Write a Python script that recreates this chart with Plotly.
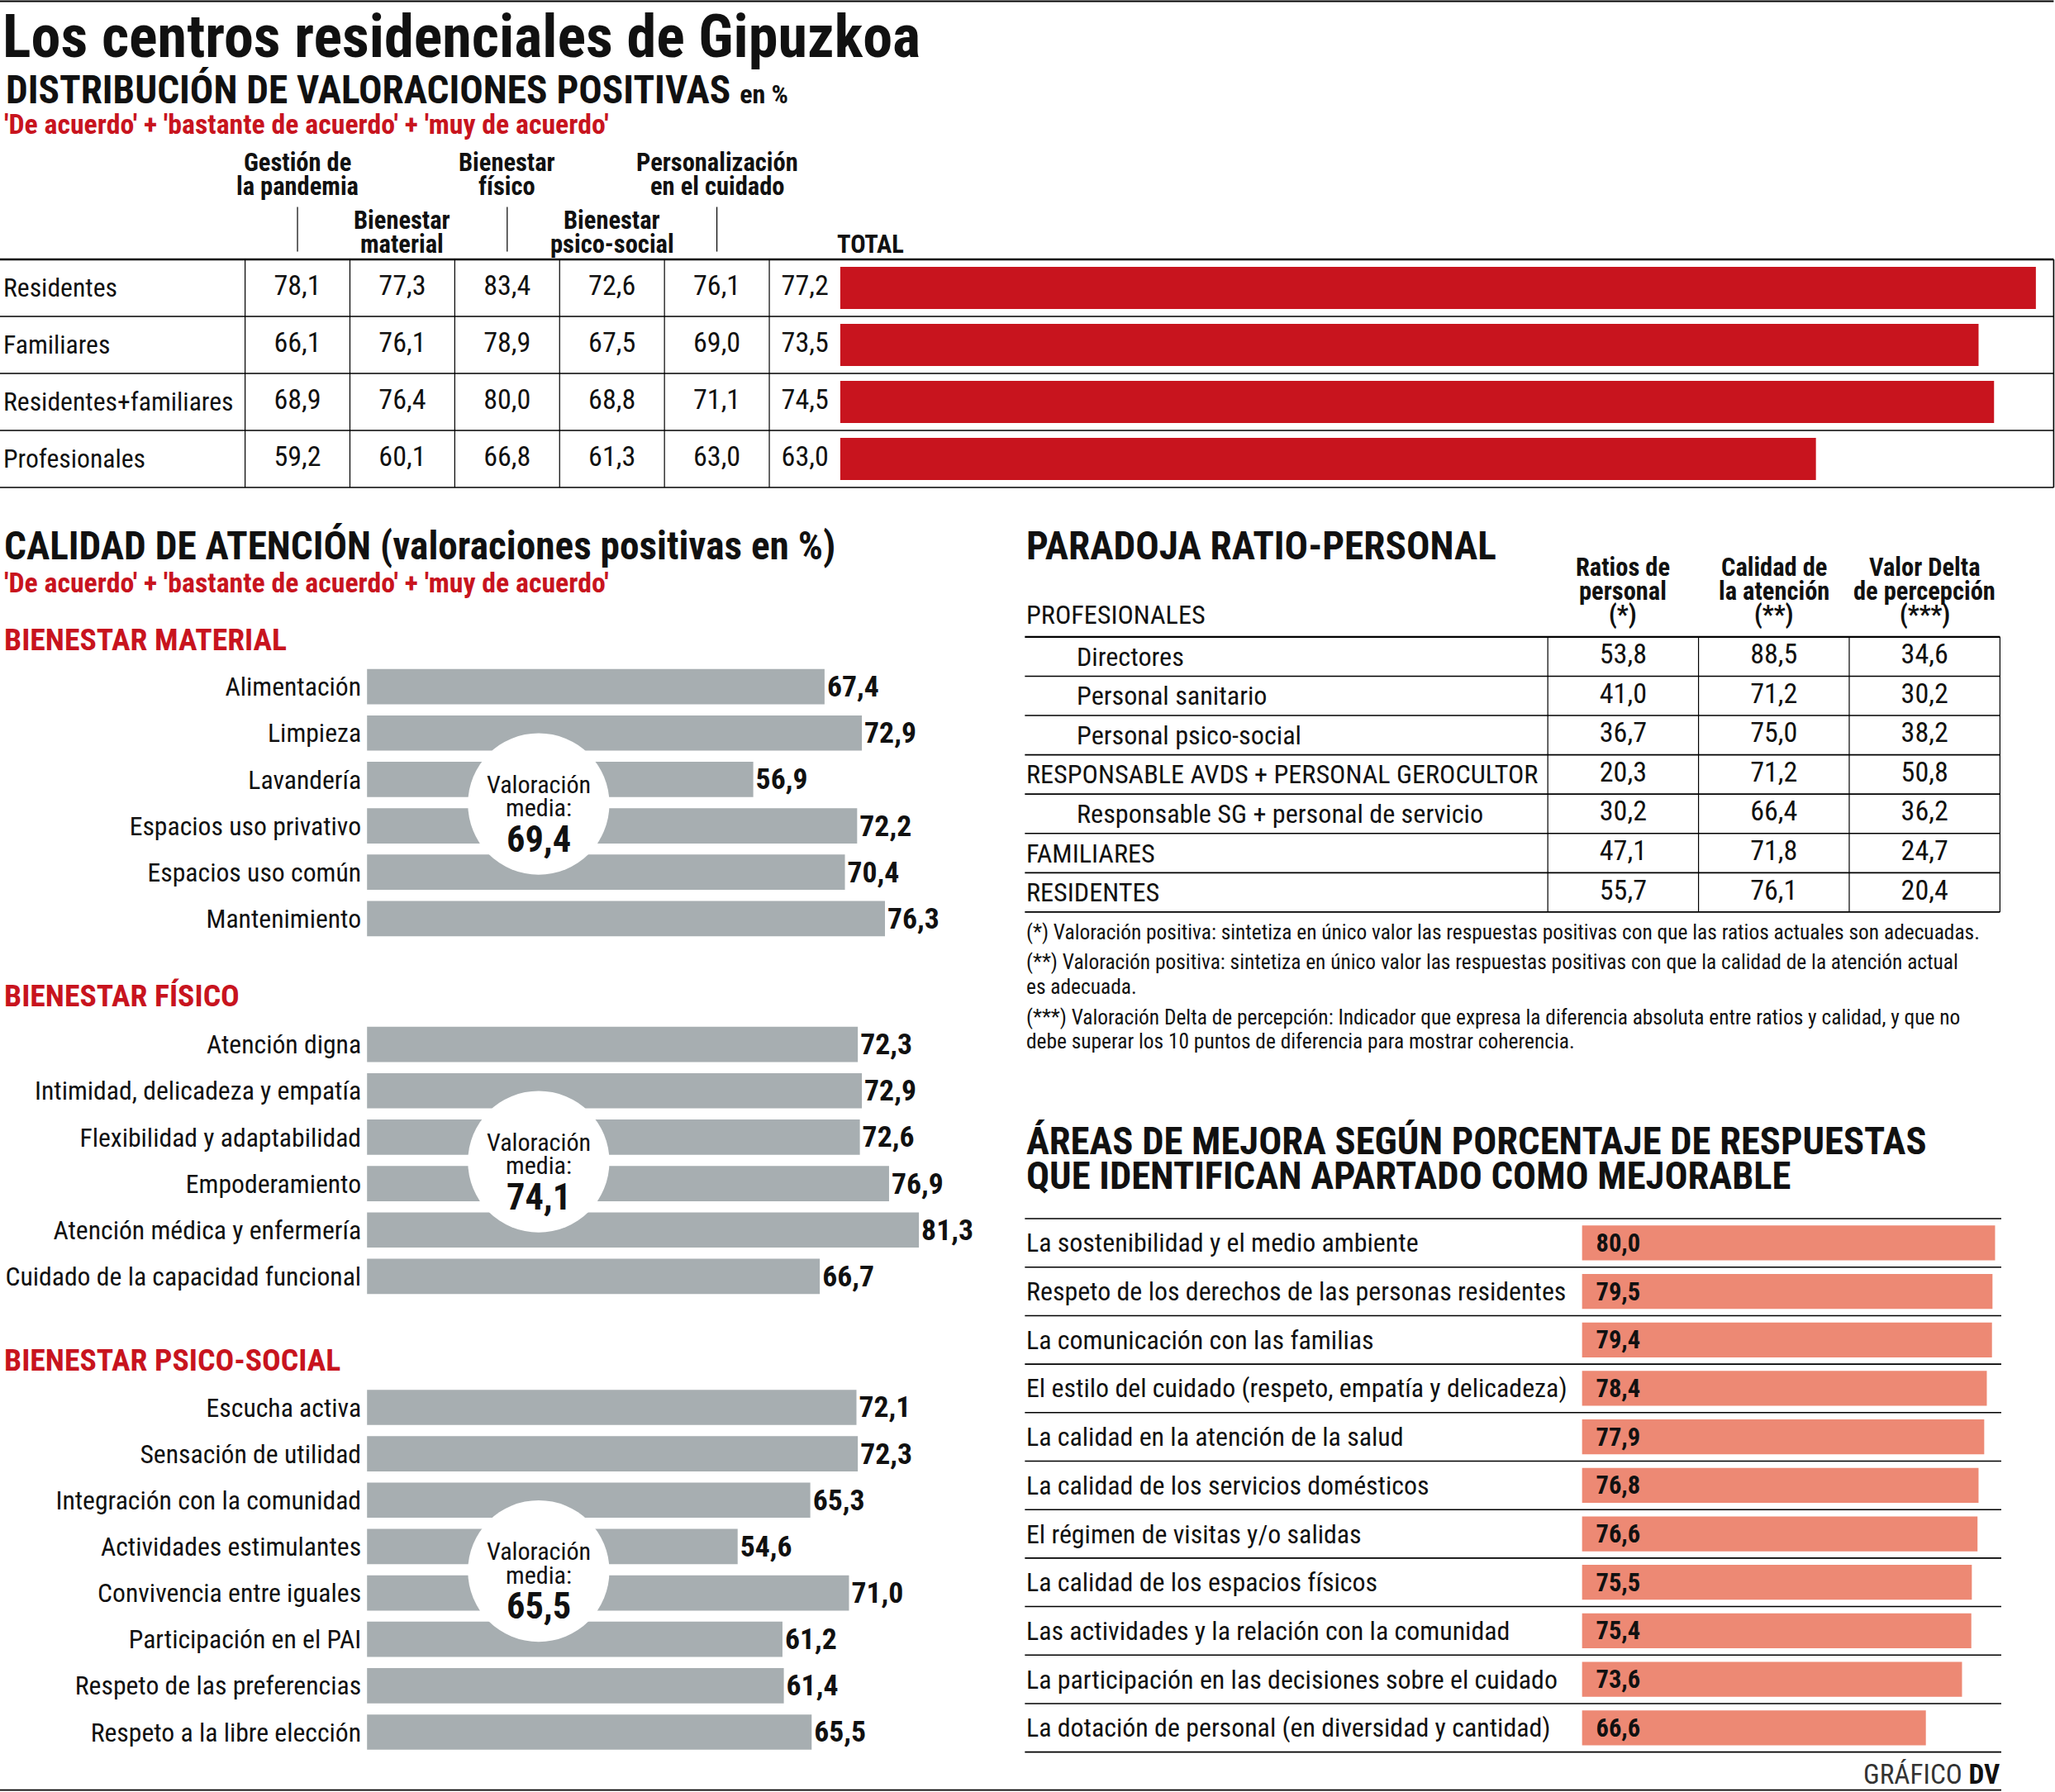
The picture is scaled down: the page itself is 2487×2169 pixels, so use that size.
import plotly.graph_objects as go

# ---------------- data ----------------
dist_rows = ["Residentes", "Familiares", "Residentes+familiares", "Profesionales"]
dist_headers = ["Gestión de|la pandemia", "Bienestar|material", "Bienestar|físico",
                "Bienestar|psico-social", "Personalización|en el cuidado"]
dist_gestion = [78.1, 66.1, 68.9, 59.2]
dist_material = [77.3, 76.1, 76.4, 60.1]
dist_fisico = [83.4, 78.9, 80.0, 66.8]
dist_psico = [72.6, 67.5, 68.8, 61.3]
dist_personal = [76.1, 69.0, 71.1, 63.0]
dist_total = [77.2, 73.5, 74.5, 63.0]

mat_labels = ["Alimentación", "Limpieza", "Lavandería", "Espacios uso privativo",
              "Espacios uso común", "Mantenimiento"]
mat_values = [67.4, 72.9, 56.9, 72.2, 70.4, 76.3]
mat_mean = 69.4

fis_labels = ["Atención digna", "Intimidad, delicadeza y empatía", "Flexibilidad y adaptabilidad",
              "Empoderamiento", "Atención médica y enfermería", "Cuidado de la capacidad funcional"]
fis_values = [72.3, 72.9, 72.6, 76.9, 81.3, 66.7]
fis_mean = 74.1

psi_labels = ["Escucha activa", "Sensación de utilidad", "Integración con la comunidad",
              "Actividades estimulantes", "Convivencia entre iguales", "Participación en el PAI",
              "Respeto de las preferencias", "Respeto a la libre elección"]
psi_values = [72.1, 72.3, 65.3, 54.6, 71.0, 61.2, 61.4, 65.5]
psi_mean = 65.5

par_rows = ["Directores", "Personal sanitario", "Personal psico-social",
            "RESPONSABLE AVDS + PERSONAL GEROCULTOR", "Responsable SG + personal de servicio",
            "FAMILIARES", "RESIDENTES"]
par_sub = [True, True, True, False, True, False, False]
par_headers = ["Ratios de|personal|(*)", "Calidad de|la atención|(**)", "Valor Delta|de percepción|(***)"]
par_ratios = [53.8, 41.0, 36.7, 20.3, 30.2, 47.1, 55.7]
par_calidad = [88.5, 71.2, 75.0, 71.2, 66.4, 71.8, 76.1]
par_delta = [34.6, 30.2, 38.2, 50.8, 36.2, 24.7, 20.4]

par_notes = [
    "(*) Valoración positiva: sintetiza en único valor las respuestas positivas con que las ratios actuales son adecuadas.",
    "(**) Valoración positiva: sintetiza en único valor las respuestas positivas con que la calidad de la atención actual|es adecuada.",
    "(***) Valoración Delta de percepción: Indicador que expresa la diferencia absoluta entre ratios y calidad, y que no|debe superar los 10 puntos de diferencia para mostrar coherencia.",
]

area_labels = ["La sostenibilidad y el medio ambiente",
               "Respeto de los derechos de las personas residentes",
               "La comunicación con las familias",
               "El estilo del cuidado (respeto, empatía y delicadeza)",
               "La calidad en la atención de la salud",
               "La calidad de los servicios domésticos",
               "El régimen de visitas y/o salidas",
               "La calidad de los espacios físicos",
               "Las actividades y la relación con la comunidad",
               "La participación en las decisiones sobre el cuidado",
               "La dotación de personal (en diversidad y cantidad)"]
area_values = [80.0, 79.5, 79.4, 78.4, 77.9, 76.8, 76.6, 75.5, 75.4, 73.6, 66.6]

# ---------------- helpers ----------------
W, H = 2487, 2169
S = W / 1568.0


def X(d):
    return d / 1568.0


def Y(d):
    return 1 - d * S / H


def F(d):
    return round(d * S, 1)


def fmt(v):
    return f"{v:.1f}".replace(".", ",")


FN = "Roboto Condensed, Noto Sans Condensed, Liberation Sans Narrow, Liberation Sans, Arial, sans-serif"
RED = "#c8141e"
GRAY = "#a7aeb1"
SALMON = "#ed8974"
BLACK = "#111111"

fig = go.Figure()
ann = []
shp = []


def ptext(t, xd, yd, size, bold=False, color=BLACK, xanchor="left", xref="paper", yref="paper"):
    ann.append(dict(
        text=t, showarrow=False,
        x=X(xd) if xref == "paper" else xd,
        y=Y(yd) if yref == "paper" else yd,
        xref=xref, yref=yref, xanchor=xanchor, yanchor="middle",
        font=dict(family=FN, size=F(size), color=color, weight="bold" if bold else "normal"),
    ))


def lines_text(t, xd, yd, dy, size, bold=False, color=BLACK, xanchor="left", xref="paper"):
    for i, part in enumerate(t.split("|")):
        ptext(part, xd, yd + i * dy, size, bold, color, xanchor, xref)


def hline(yd, x0, x1, w=1.6):
    shp.append(dict(type="line", xref="paper", yref="paper", x0=X(x0), x1=X(x1), y0=Y(yd), y1=Y(yd),
                    line=dict(color="black", width=w)))


def vline(xd, y0, y1, w=1.4, xref="paper"):
    shp.append(dict(type="line", xref=xref, yref="paper",
                    x0=X(xd) if xref == "paper" else xd, x1=X(xd) if xref == "paper" else xd,
                    y0=Y(y0), y1=Y(y1), line=dict(color="black", width=w)))


TITLE = 29.8
HEAD = 19.2
# ---------------- titles ----------------
hline(1, 0, 1567, 2)
ptext("Los centros residenciales de Gipuzkoa", 0.5, 28, 45.5, bold=True)
ptext('DISTRIBUCIÓN DE VALORACIONES POSITIVAS <span style="font-size:%.0fpx">en %%</span>' % F(20),
      3, 69, TITLE, bold=True)
ptext("'De acuerdo' + 'bastante de acuerdo' + 'muy de acuerdo'", 2, 95, 21.3, bold=True, color=RED)

# ---------------- section 1: table + total bars ----------------
T1_TOP, T1_BOT = 198, 372
fig.add_trace(go.Bar(x=dist_total, y=dist_rows, orientation="h", width=0.74,
                     marker=dict(color=RED, line_width=0), xaxis="x", yaxis="y", hoverinfo="skip"))
col_vals = [dist_gestion, dist_material, dist_fisico, dist_psico, dist_personal, dist_total]
col_x = [0.5, 1.5, 2.5, 3.5, 4.5, 5.34]
for cx, vals in zip(col_x, col_vals):
    fig.add_trace(go.Scatter(x=[cx] * len(vals), y=dist_rows, mode="text",
                             text=[fmt(v) for v in vals],
                             textfont=dict(family=FN, size=F(21.5), color=BLACK),
                             xaxis="x2", yaxis="y", hoverinfo="skip"))
for r in dist_rows:
    ann.append(dict(text=r, x=X(1), y=r, xref="paper", yref="y", xanchor="left", yanchor="middle",
                    showarrow=False, font=dict(family=FN, size=F(20), color=BLACK)))
for j, h in enumerate(dist_headers):
    y0 = 124 if j % 2 == 0 else 168
    lines_text(h, j + 0.5, y0, 18, HEAD, bold=True, xanchor="center", xref="x2")
    if j % 2 == 0:
        vline(j + 0.5, 158, 192, 1.2, xref="x2")
ptext("TOTAL", 664, 186, HEAD, bold=True, xanchor="center")

hline(T1_TOP, 0, 1567, 2.4)
for k in range(1, len(dist_rows) + 1):
    hline(T1_TOP + k * (T1_BOT - T1_TOP) / len(dist_rows), 0, 1567, 1.6)
for xv in [187, 267, 347, 427, 507, 587]:
    vline(xv, T1_TOP, T1_BOT, 1.2)
vline(1567, T1_TOP, T1_BOT, 1.6)

# ---------------- section 2: calidad de atención ----------------
ptext("CALIDAD DE ATENCIÓN (valoraciones positivas en %)", 2, 417, TITLE, bold=True)
ptext("'De acuerdo' + 'bastante de acuerdo' + 'muy de acuerdo'", 2, 445, 21.3, bold=True, color=RED)

ROW = 35.4
groups = [
    ("BIENESTAR MATERIAL", mat_labels, mat_values, mat_mean, 488, 506.3, "x3", "y3"),
    ("BIENESTAR FÍSICO", fis_labels, fis_values, fis_mean, 760, 779.3, "x4", "y4"),
    ("BIENESTAR PSICO-SOCIAL", psi_labels, psi_values, psi_mean, 1038, 1056.3, "x5", "y5"),
]
layout_axes = {}
for name, labels, vals, mean, hy, top, xa, ya in groups:
    n = len(labels)
    bot = top + n * ROW
    ptext(name, 2, hy, 23.8, bold=True, color=RED)
    fig.add_trace(go.Bar(x=vals, y=labels, orientation="h", width=0.76,
                         marker=dict(color=GRAY, line_width=0),
                         text=[fmt(v) for v in vals], textposition="outside",
                         textfont=dict(family=FN, size=F(22.5), color=BLACK, weight="bold"),
                         cliponaxis=False, xaxis=xa, yaxis=ya, hoverinfo="skip"))
    xk = "xaxis" + xa[1:]
    yk = "yaxis" + ya[1:]
    layout_axes[xk] = dict(domain=[X(280), X(760)], range=[0, 92.66], visible=False,
                           anchor=ya, fixedrange=True)
    layout_axes[yk] = dict(domain=[Y(bot), Y(top)], range=[n - 0.5, -0.5], type="category",
                           categoryorder="array", categoryarray=labels, anchor=xa,
                           showline=False, showgrid=False, zeroline=False, ticks="",
                           ticklabelstandoff=6, automargin=False,
                           tickfont=dict(family=FN, size=F(20), color=BLACK))
    # circle with mean
    mid = n // 2 - 1 if n == 6 else 3
    cy = top + (mid + 1) * ROW + 1
    cx, r = 411, 54
    shp.append(dict(type="circle", xref="paper", yref="paper", layer="above",
                    x0=X(cx - r), x1=X(cx + r), y0=Y(cy + r), y1=Y(cy - r),
                    fillcolor="white", line=dict(width=0)))
    ptext("Valoración", cx, cy - 15, 19, xanchor="center")
    ptext("media:", cx, cy + 3, 19, xanchor="center")
    ptext(fmt(mean), cx, cy + 27, 28, bold=True, xanchor="center")

# ---------------- section 3: paradoja ratio-personal ----------------
ptext("PARADOJA RATIO-PERSONAL", 782, 417, TITLE, bold=True)
P_TOP, P_BOT = 486, 696
P_COLS = [1181, 1296, 1411, 1526]
for j, h in enumerate(par_headers):
    lines_text(h, j + 0.5, 433, 18, HEAD, bold=True, xanchor="center", xref="x6")
ptext("PROFESIONALES", 782, 469, 20.3)
for j, vals in enumerate([par_ratios, par_calidad, par_delta]):
    fig.add_trace(go.Scatter(x=[j + 0.5] * len(vals), y=par_rows, mode="text",
                             text=[fmt(v) for v in vals],
                             textfont=dict(family=FN, size=F(21.5), color=BLACK),
                             xaxis="x6", yaxis="y6", hoverinfo="skip"))
for r, sub in zip(par_rows, par_sub):
    ann.append(dict(text=r, x=X(820 if sub else 782), y=r, xref="paper", yref="y6",
                    xanchor="left", yanchor="middle", showarrow=False,
                    font=dict(family=FN, size=F(20.3), color=BLACK)))
hline(P_TOP, 782, 1526, 2.4)
for k in range(1, len(par_rows) + 1):
    hline(P_TOP + k * (P_BOT - P_TOP) / len(par_rows), 782, 1526, 1.6)
for xv in P_COLS:
    vline(xv, P_TOP, P_BOT, 1.2)
layout_axes["xaxis6"] = dict(domain=[X(1181), X(1526)], range=[0, 3], visible=False, anchor="y6")
layout_axes["yaxis6"] = dict(domain=[Y(P_BOT), Y(P_TOP)], range=[len(par_rows) - 0.5, -0.5],
                             type="category", categoryorder="array", categoryarray=par_rows,
                             visible=False, anchor="x6")

note_y = [711, 734, 776]
for ny, note in zip(note_y, par_notes):
    lines_text(note, 782, ny, 18.5, 16)

# ---------------- section 4: áreas de mejora ----------------
ptext("ÁREAS DE MEJORA SEGÚN PORCENTAJE DE RESPUESTAS", 782, 871, 29.4, bold=True)
ptext("QUE IDENTIFICAN APARTADO COMO MEJORABLE", 782, 897, 29.4, bold=True)
A_TOP, A_BOT = 930, 1337
fig.add_trace(go.Bar(x=area_values, y=area_labels, orientation="h", width=0.72,
                     marker=dict(color=SALMON, line_width=0),
                     text=["\u00a0\u00a0" + fmt(v) for v in area_values], textposition="inside",
                     insidetextanchor="start",
                     textfont=dict(family=FN, size=F(22.8), color=BLACK, weight="bold"),
                     xaxis="x7", yaxis="y7", hoverinfo="skip"))
for r in area_labels:
    ann.append(dict(text=r, x=X(782), y=r, xref="paper", yref="y7",
                    xanchor="left", yanchor="middle", showarrow=False,
                    font=dict(family=FN, size=F(20.1), color=BLACK)))
for k in range(0, len(area_labels) + 1):
    hline(A_TOP + k * (A_BOT - A_TOP) / len(area_labels), 782, 1527, 1.6)
layout_axes["xaxis7"] = dict(domain=[X(1207), X(1527)], range=[0, 81.2], visible=False, anchor="y7")
layout_axes["yaxis7"] = dict(domain=[Y(A_BOT), Y(A_TOP)], range=[len(area_labels) - 0.5, -0.5],
                             type="category", categoryorder="array", categoryarray=area_labels,
                             visible=False, anchor="x7")

ptext('<span style="color:#333333">GRÁFICO</span> <b>DV</b>', 1527, 1354, 21, xanchor="right")
hline(1366, 0, 1527, 1.8)

# ---------------- layout ----------------
fig.update_layout(
    width=W, height=H, margin=dict(l=0, r=0, t=0, b=0, pad=0, autoexpand=False),
    paper_bgcolor="white", plot_bgcolor="rgba(0,0,0,0)",
    showlegend=False, hovermode=False, barmode="overlay",
    xaxis=dict(domain=[X(641), X(1567)], range=[0, 78.35], visible=False, anchor="y"),
    xaxis2=dict(domain=[X(187), X(641)], range=[0, 5.675], visible=False, anchor="y"),
    yaxis=dict(domain=[Y(T1_BOT), Y(T1_TOP)], range=[len(dist_rows) - 0.5, -0.5], type="category",
               categoryorder="array", categoryarray=dist_rows, visible=False, anchor="x"),
    annotations=ann, shapes=shp,
)
fig.update_layout(**layout_axes)

fig.write_html("out.html", config={"displayModeBar": False},
               post_script="document.body.style.margin='0px';document.body.style.overflow='hidden';")
